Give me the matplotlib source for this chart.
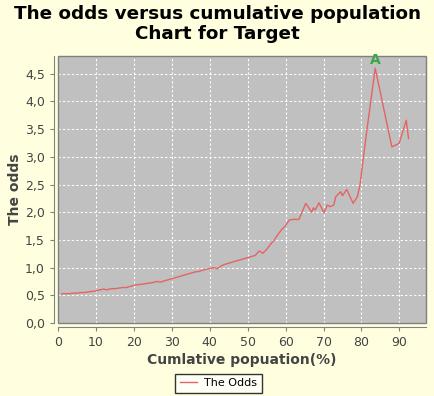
import matplotlib
matplotlib.use("Agg")
import matplotlib.pyplot as plt
from matplotlib.patches import Rectangle
from matplotlib.ticker import FuncFormatter, MultipleLocator

pop_pct = [1, 2, 3, 4, 5, 6, 7, 8, 9, 10, 11, 12, 13, 14, 15, 16, 17, 18, 19, 20,
           21, 22, 23, 24, 25, 26, 27, 28, 29, 30, 31, 32, 33, 34, 35, 36, 37, 38, 39, 40,
           41, 42, 43, 44, 45, 46, 47, 48, 49, 50, 51, 52, 53, 54, 55, 56, 57, 58, 59, 60,
           61, 62, 63, 63.5, 64.2, 65.3, 66.2, 66.9, 67.3, 67.8, 68.8, 70.1, 71.0, 71.7,
           72.7, 73.2, 74.5, 75.0, 76.1, 77.8, 78.9, 79.6, 80.3, 81.3, 82.4, 83.6, 85.0,
           86.5, 88.0, 89.9, 91.8, 92.4]
odds = [0.53, 0.53, 0.53, 0.54, 0.54, 0.55, 0.55, 0.56, 0.57, 0.58, 0.60, 0.61, 0.60,
        0.62, 0.62, 0.63, 0.64, 0.64, 0.66, 0.68, 0.69, 0.70, 0.71, 0.72, 0.73, 0.75,
        0.74, 0.76, 0.78, 0.80, 0.82, 0.84, 0.86, 0.88, 0.90, 0.92, 0.93, 0.95, 0.97,
        0.98, 1.00, 0.98, 1.03, 1.06, 1.08, 1.10, 1.12, 1.14, 1.16, 1.18, 1.20, 1.22,
        1.30, 1.26, 1.33, 1.42, 1.50, 1.60, 1.69, 1.76, 1.86, 1.87, 1.87, 1.87, 1.98,
        2.16, 2.07, 2.00, 2.08, 2.04, 2.17, 1.99, 2.13, 2.10, 2.13, 2.28, 2.37, 2.30,
        2.41, 2.16, 2.28, 2.49, 2.88, 3.42, 3.98, 4.60, 4.15, 3.66, 3.18, 3.24, 3.66, 3.33]
x_ticks = [0, 10, 20, 30, 40, 50, 60, 70, 80, 90]
title = "The odds versus cumulative population\nChart for Target"
x_label = "Cumlative popuation(%)"
y_label = "The odds"
series_name = "The Odds"
peak_label = "A"

bg = "#FFFFE0"
fig = plt.figure(figsize=(4.35, 3.96), dpi=100, facecolor=bg)
ax = fig.add_axes([0.1333, 0.1843, 0.846, 0.6743])
ax.set_facecolor("#C0C0C0")

line, = ax.plot(pop_pct, odds, color="#E46464", lw=1.0, label=series_name)

ax.set_xlim(0, 97)
ax.set_ylim(0, 4.82)
ax.set_xticks(x_ticks)
ax.yaxis.set_major_locator(MultipleLocator(0.5))
ax.yaxis.set_major_formatter(FuncFormatter(lambda v, p: f"{v:.1f}".replace(".", ",")))

ax.grid(True, color="white", linestyle=(0, (2, 2)), lw=0.8)
ax.set_axisbelow(True)

for s in ["top", "right"]:
    ax.spines[s].set_visible(False)
for s in ["left", "bottom"]:
    ax.spines[s].set_position(("outward", 3))
    ax.spines[s].set_color("#808080")
ax.add_patch(Rectangle((0, 0), 1, 1, transform=ax.transAxes, fill=False,
                       edgecolor="#808080", lw=1.0, zorder=5, clip_on=False))

ax.tick_params(colors="#808080", labelcolor="#444444", labelsize=9, length=3, width=0.8)

ax.set_xlabel(x_label, fontsize=10, fontweight="bold", color="#444444", labelpad=3)
ax.set_ylabel(y_label, fontsize=10, fontweight="bold", color="#444444", labelpad=2)

fig.suptitle(title, fontsize=13.2, fontweight="bold", y=0.988, linespacing=1.18)

i_peak = odds.index(max(odds))
ax.annotate(peak_label, (pop_pct[i_peak], odds[i_peak]), xytext=(0, 1),
            textcoords="offset points", ha="center", va="bottom",
            color="#33AA44", fontsize=10, fontweight="bold")

leg = fig.legend(handles=[line], loc="center", bbox_to_anchor=(0.502, 0.032),
                 fontsize=8, frameon=True, fancybox=False, edgecolor="black",
                 facecolor="white", handlelength=1.6, borderpad=0.4,
                 handletextpad=0.6)
leg.get_frame().set_linewidth(1.0)

fig.savefig("out.png", dpi=100, facecolor=bg)
